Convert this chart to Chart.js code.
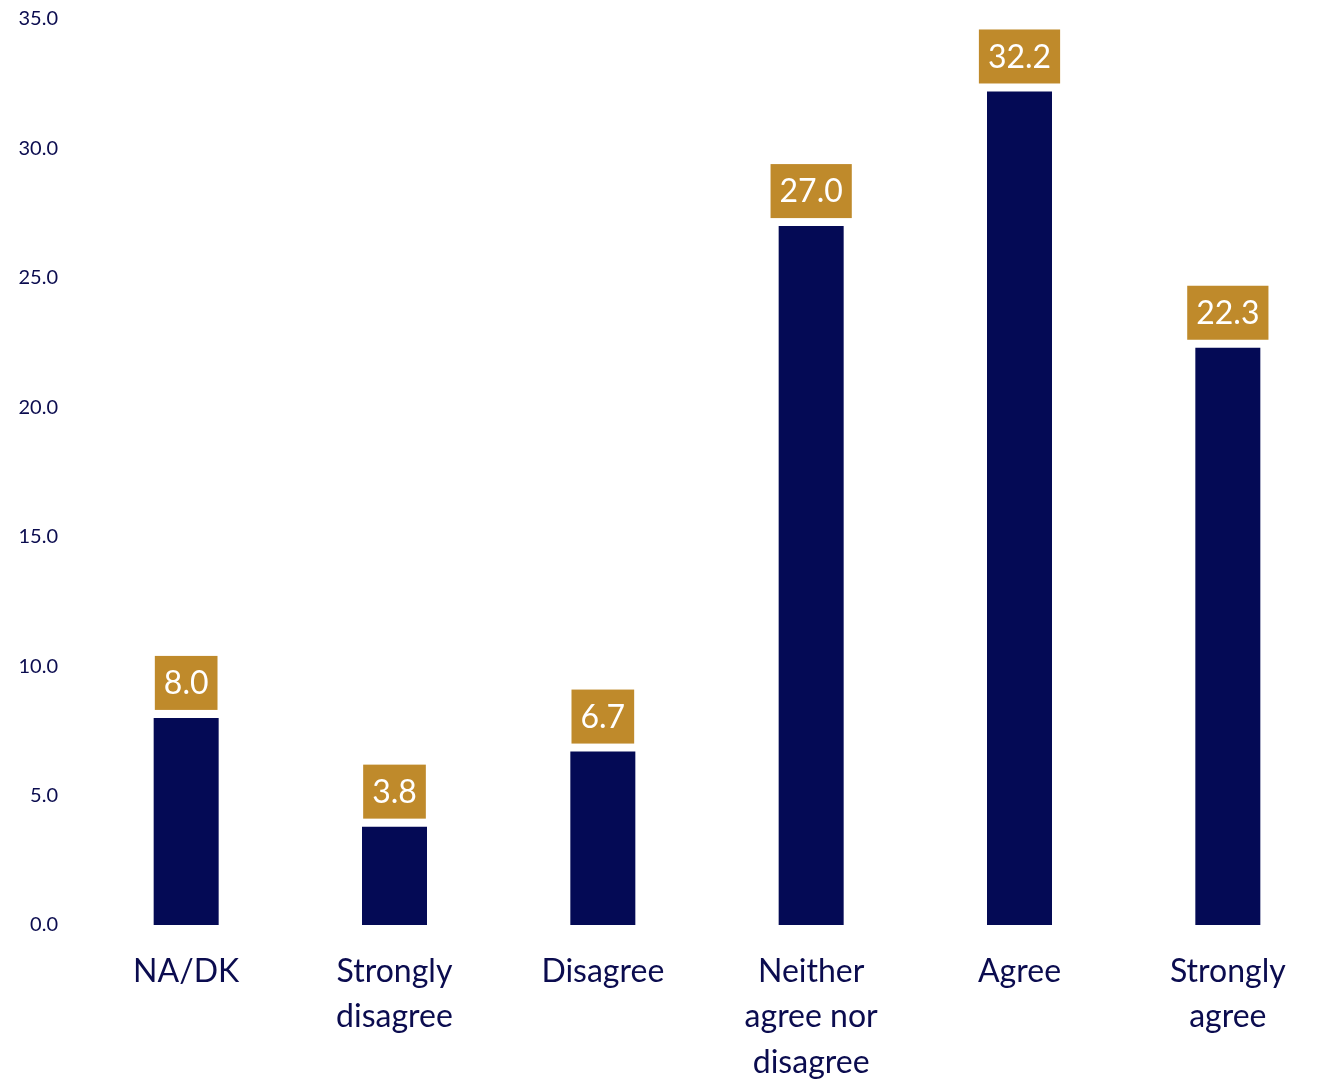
<!DOCTYPE html>
<html>
<head>
<meta charset="utf-8">
<script src="https://cdn.jsdelivr.net/npm/chart.js@4"></script>
<style>
  html, body { margin: 0; padding: 0; background: #fff; overflow: hidden; }
  #wrap { width: 1332px; height: 1100px; margin-top: -17px; position: relative; }
</style>
</head>
<body>
<div id="wrap"><canvas id="surveyChart"></canvas></div>
<script>
    // Survey responses (%)
    const categories = [
        'NA/DK',
        ['Strongly', 'disagree'],
        'Disagree',
        ['Neither', 'agree nor', 'disagree'],
        'Agree',
        ['Strongly', 'agree']
    ];
    const shares = [8.0, 3.8, 6.7, 27.0, 32.2, 22.3];
    const yTicks = [0, 5, 10, 15, 20, 25, 30, 35];

    const navy = '#040a55';
    const gold = '#bf8a2b';
    const textColor = '#0b0c4f';
    const fontFamily = 'Lato, "Open Sans", sans-serif';

    // gold boxes with the values above each bar
    const valueBoxes = {
        id: 'valueBoxes',
        afterDatasetsDraw(chart) {
            const ctx = chart.ctx;
            const meta = chart.getDatasetMeta(0);
            ctx.save();
            ctx.font = '32px ' + fontFamily;
            ctx.textAlign = 'center';
            ctx.textBaseline = 'middle';
            meta.data.forEach(function(bar, i) {
                const label = shares[i].toFixed(1);
                const w = ctx.measureText(label).width + 18;
                const h = 54;
                const bottom = bar.y - 8;
                ctx.fillStyle = gold;
                ctx.fillRect(bar.x - w / 2, bottom - h, w, h);
                ctx.fillStyle = '#ffffff';
                ctx.fillText(label, bar.x, bottom - h / 2 + 1);
            });
            ctx.restore();
        }
    };

    const ctx = document.getElementById('surveyChart').getContext('2d');
    new Chart(ctx, {
        type: 'bar',
        data: {
            labels: categories,
            datasets: [{
                data: shares,
                backgroundColor: navy,
                borderWidth: 0,
                categoryPercentage: 1.0,
                barPercentage: 0.312
            }]
        },
        options: {
            responsive: true,
            maintainAspectRatio: false,
            animation: false,
            layout: { padding: { top: 0, right: 0, bottom: 0, left: 0 } },
            plugins: {
                legend: { display: false },
                tooltip: { enabled: false }
            },
            scales: {
                x: {
                    grid: { display: false, drawTicks: false },
                    border: { display: false },
                    afterFit: function(scale) { scale.height = 158; },
                    ticks: {
                        color: textColor,
                        padding: 24,
                        maxRotation: 0,
                        autoSkip: false,
                        font: { family: fontFamily, size: 32, lineHeight: 1.42 }
                    }
                },
                y: {
                    min: 0,
                    max: 35,
                    grid: { display: false, drawTicks: false },
                    border: { display: false },
                    afterFit: function(scale) { scale.width = 82; },
                    afterBuildTicks: function(scale) {
                        scale.ticks = yTicks.map(v => ({ value: v }));
                    },
                    ticks: {
                        color: textColor,
                        padding: 24,
                        font: { family: fontFamily, size: 20 },
                        callback: v => Number(v).toFixed(1)
                    }
                }
            }
        },
        plugins: [valueBoxes]
    });
</script>
</body>
</html>
